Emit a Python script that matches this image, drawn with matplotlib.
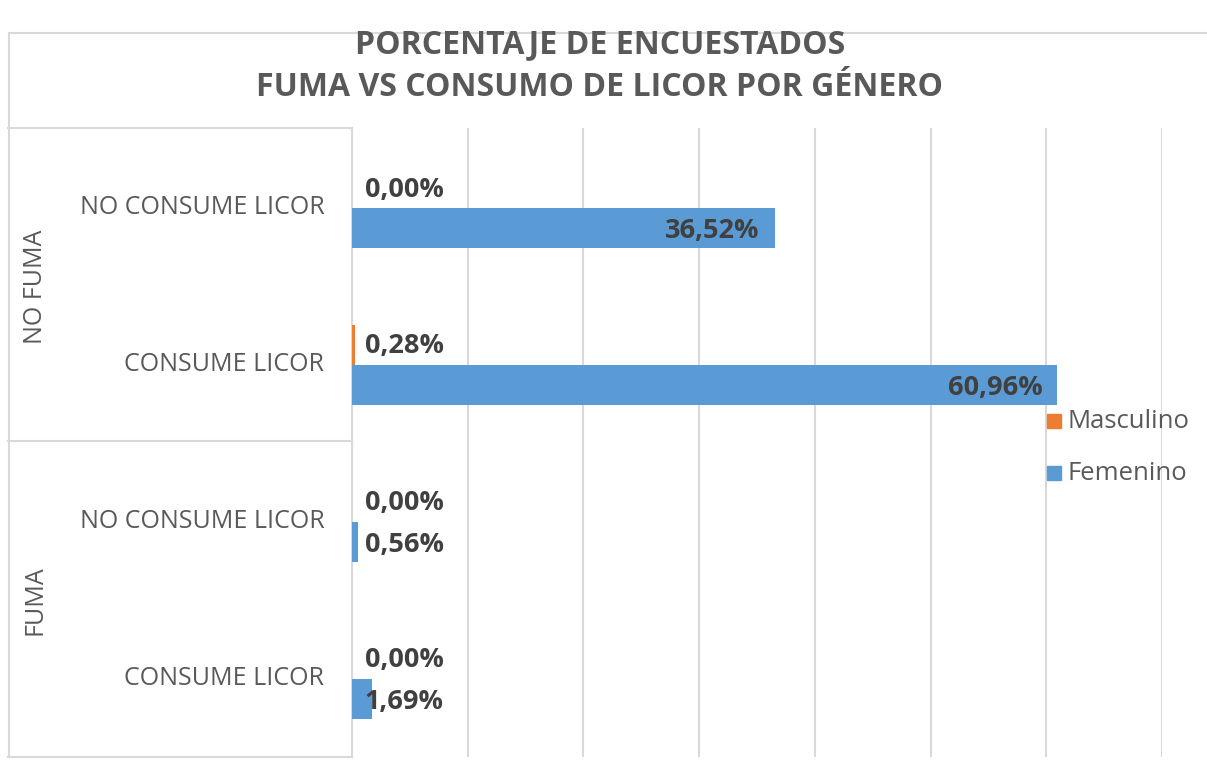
import matplotlib.pyplot as plt
from matplotlib.lines import Line2D

# data
groups = ['NO FUMA', 'FUMA']
categories = ['NO CONSUME LICOR', 'CONSUME LICOR', 'NO CONSUME LICOR', 'CONSUME LICOR']
masculino = [0.00, 0.28, 0.00, 0.00]
femenino = [36.52, 60.96, 0.56, 1.69]
series_names = ['Masculino', 'Femenino']

BLUE = '#5B9BD5'
ORANGE = '#ED7D31'
GRID = '#D9D9D9'
TEXT = '#595959'
LABEL = '#404040'
FONT = 'Open Sans'

W, H = 1207, 761
fig = plt.figure(figsize=(W / 100, H / 100), dpi=100)

def fx(px):
    return px / W

def fy(py):
    return 1 - py / H

ax_left, ax_right, ax_top, ax_bottom = 352, 1162, 128, 757
ax = fig.add_axes([fx(ax_left), fy(ax_bottom), fx(ax_right - ax_left), fy(ax_top) - fy(ax_bottom)])

ypos = list(range(len(categories)))
h = 0.255
ax.barh([y - h / 2 for y in ypos], masculino, height=h, color=ORANGE, zorder=3)
ax.barh([y + h / 2 for y in ypos], femenino, height=h, color=BLUE, zorder=3)

ax.set_xlim(0, 70)
ax.set_ylim(len(categories) - 0.5, -0.51)
ax.set_xticks(range(0, 71, 10))
ax.grid(axis='x', color=GRID, linewidth=1.5, zorder=0)
ax.tick_params(left=False, bottom=False, labelleft=False, labelbottom=False)
for s in ['top', 'right', 'bottom']:
    ax.spines[s].set_visible(False)
ax.spines['left'].set_color(GRID)
ax.spines['left'].set_linewidth(1.5)

def fmt(v):
    return f'{v:.2f}%'.replace('.', ',')

lab_kw = dict(fontsize=19.5, fontweight='bold', color=LABEL, family=FONT, va='center', zorder=5)
for y, m, f in zip(ypos, masculino, femenino):
    ax.text(1.1, y - h / 2 + 0.01, fmt(m), ha='left', **lab_kw)
    if f > 10:
        ax.text(f - 1.3, y + h / 2 + 0.02, fmt(f), ha='right', **lab_kw)
    else:
        ax.text(1.1, y + h / 2 + 0.02, fmt(f), ha='left', **lab_kw)

# category and group labels on the left
for y, c in zip(ypos, categories):
    ax.text(-2.4, y, c, ha='right', va='center', fontsize=18, color=TEXT, family=FONT)
fig.text(fx(35), fy(287), groups[0], rotation=90, ha='center', va='center',
         fontsize=18, color=TEXT, family=FONT)
fig.text(fx(35), fy(600), groups[1], rotation=90, ha='center', va='center',
         fontsize=18, color=TEXT, family=FONT)

# boxes around category labels and chart border
for y0 in [128, 441, 757]:
    fig.add_artist(Line2D([fx(8), fx(352)], [fy(y0), fy(y0)], color=GRID, lw=1.5))
fig.add_artist(Line2D([fx(9), fx(9)], [fy(33), fy(757)], color=GRID, lw=1.5))
fig.add_artist(Line2D([fx(9), fx(1207)], [fy(33), fy(33)], color=GRID, lw=1.5))

# title
fig.text(fx(600), fy(45), 'PORCENTAJE DE ENCUESTADOS', ha='center', va='center',
         fontsize=23, fontweight='bold', color=TEXT, family=FONT)
fig.text(fx(600), fy(87), 'FUMA VS CONSUMO DE LICOR POR GÉNERO', ha='center', va='center',
         fontsize=23, fontweight='bold', color=TEXT, family=FONT)

# legend
for py, name, col in [(421, series_names[0], ORANGE), (473, series_names[1], BLUE)]:
    fig.patches.append(plt.Rectangle((fx(1047), fy(py + 7)), fx(14), fy(py - 7) - fy(py + 7),
                                     transform=fig.transFigure, color=col))
    fig.text(fx(1068), fy(py), name, ha='left', va='center', fontsize=18.5, color=TEXT, family=FONT)

fig.savefig('out.png', dpi=100)
